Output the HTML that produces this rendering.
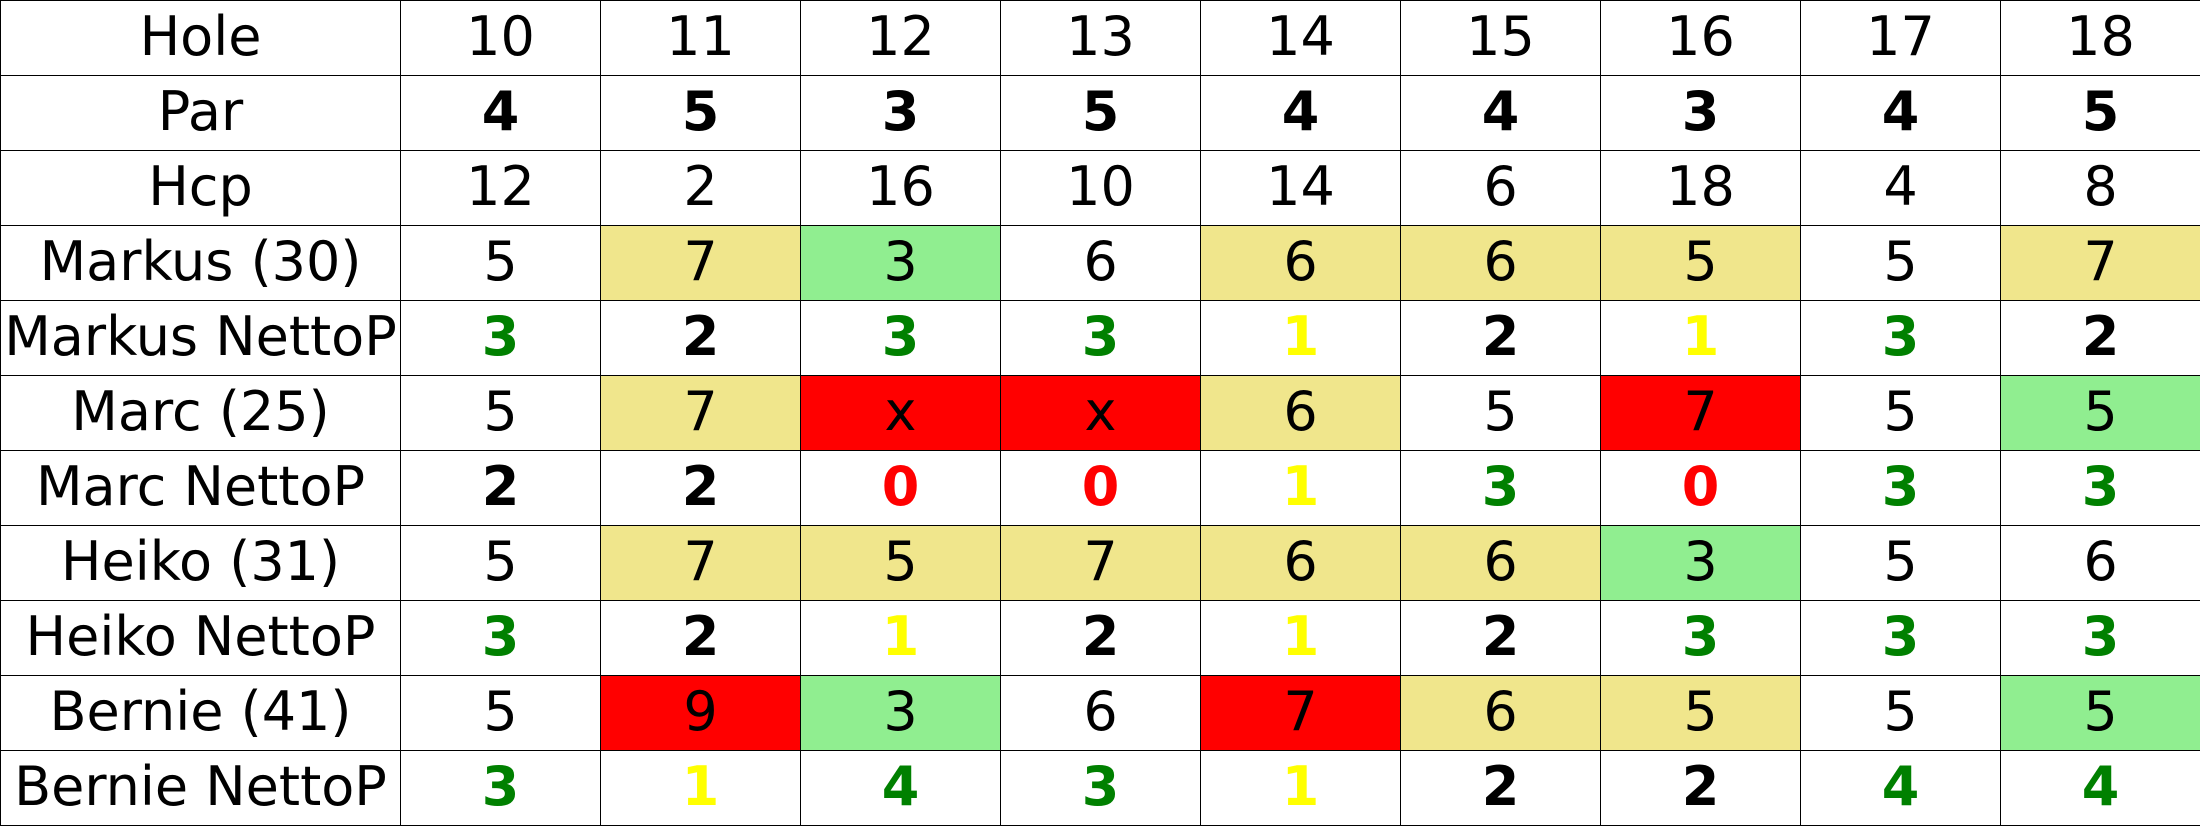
<!DOCTYPE html>
<html><head><meta charset="utf-8"><style>
body{margin:0;width:2200px;height:825px;background:#fff;overflow:hidden}
#grid{position:absolute;left:0;top:0;width:2200px;height:825px}
.c{position:absolute;box-sizing:border-box;border:1px solid #000;display:flex;align-items:center;justify-content:center;font-family:"DejaVu Sans","Liberation Sans",sans-serif;font-size:54px;color:#000;white-space:nowrap;padding-bottom:3px}
.b{font-weight:bold}
</style></head><body>
<div id="grid"></div>
<script>
const holes=[10,11,12,13,14,15,16,17,18];
const par=[4,5,3,5,4,4,3,4,5];
const hcp=[12,2,16,10,14,6,18,4,8];
const markus=[5,7,3,6,6,6,5,5,7];
const markusN=[3,2,3,3,1,2,1,3,2];
const marc=[5,7,'x','x',6,5,7,5,5];
const marcN=[2,2,0,0,1,3,0,3,3];
const heiko=[5,7,5,7,6,6,3,5,6];
const heikoN=[3,2,1,2,1,2,3,3,3];
const bernie=[5,9,3,6,7,6,5,5,5];
const bernieN=[3,1,4,3,1,2,2,4,4];
// cell highlight codes: w=white, k=khaki, g=green, r=red
const markusBg=['w','k','g','w','k','k','k','w','k'];
const marcBg=['w','k','r','r','k','w','r','w','g'];
const heikoBg=['w','k','k','k','k','k','g','w','w'];
const bernieBg=['w','r','g','w','r','k','k','w','g'];
const rowLabels=['Hole','Par','Hcp','Markus (30)','Markus NettoP','Marc (25)','Marc NettoP','Heiko (31)','Heiko NettoP','Bernie (41)','Bernie NettoP'];
const rows=[holes,par,hcp,markus,markusN,marc,marcN,heiko,heikoN,bernie,bernieN];
const bgs=[null,null,null,markusBg,null,marcBg,null,heikoBg,null,bernieBg,null];
const rowTypes=['h','p','h','s','n','s','n','s','n','s','n'];
const bgMap={w:'#fff',k:'#f0e68c',g:'#90ee90',r:'#ff0000'};
const grid=document.getElementById('grid');
function netColor(v){if(v>=3)return '#008000';if(v===2)return '#000';if(v===1)return '#ffff00';return '#ff0000';}
function slug(s){return s.toLowerCase().replace(/[^a-z0-9]+/g,'-').replace(/-$/,'');}
rows.forEach((r,ri)=>{
  const y=ri*75;
  const lab=document.createElement('div');
  lab.className='c';
  lab.style.cssText=`left:0;top:${y}px;width:401px;height:76px`;
  lab.textContent=rowLabels[ri];
  
  
  grid.appendChild(lab);
  r.forEach((v,ci)=>{
    const d=document.createElement('div');
    d.className='c';
    d.style.cssText=`left:${400+ci*200}px;top:${y}px;width:201px;height:76px`;
    d.textContent=v;
    const t=rowTypes[ri];
    if(t==='p')d.classList.add('b');
    if(t==='s')d.style.background=bgMap[bgs[ri][ci]];
    if(t==='n'){d.classList.add('b');d.style.color=netColor(v);}
    
    
    grid.appendChild(d);
  });
});
</script>
</body></html>
